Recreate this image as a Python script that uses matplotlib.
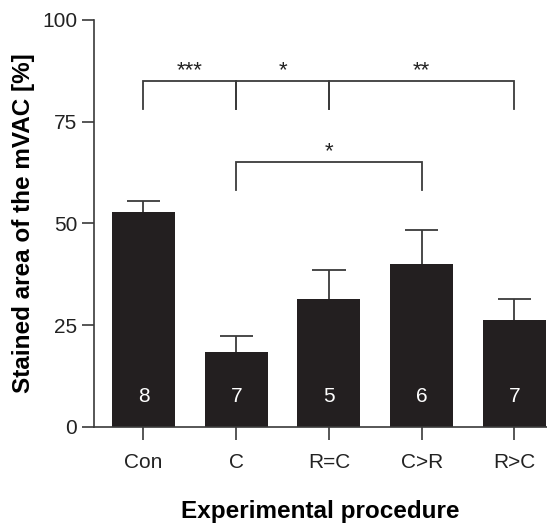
import matplotlib
matplotlib.use('Agg')
import matplotlib.pyplot as plt
import numpy as np

plt.rcParams['font.family'] = ['Liberation Sans', 'DejaVu Sans']

# data
groups = ['Con', 'C', 'R=C', 'C>R', 'R>C']
means = [52.8, 18.3, 31.4, 40.0, 26.3]
sem = [2.7, 4.1, 7.2, 8.5, 5.1]
n_per_group = [8, 7, 5, 6, 7]

# significance brackets: (left group, right group, bracket height, label)
brackets = [(0, 1, 85.1, '***'),
            (1, 2, 85.1, '*'),
            (2, 4, 85.1, '**'),
            (1, 3, 65.2, '*')]
drop = 7.0

bar_color = '#231f20'
line_color = '#3a3a3a'

fig = plt.figure(figsize=(5.47, 5.23), dpi=100)
ax = fig.add_axes([0.1718, 0.1836, 0.828, 0.7782])

x = np.arange(len(groups))
ax.bar(x, means, width=0.68, color=bar_color, zorder=2)

# upper error bars only (no cap at the bar top)
tops = np.array(means) + np.array(sem)
ax.vlines(x, means, tops, color=line_color, lw=1.3, zorder=1)
ax.hlines(tops, x - 0.18, x + 0.18, color=line_color, lw=1.3, zorder=1)

for xi, n in zip(x, n_per_group):
    ax.text(xi, 7.6, str(n), color='white', ha='center', va='center', fontsize=15)

for a, b, h, lab in brackets:
    ax.plot([a, a, b, b], [h - drop, h, h, h - drop], color=line_color, lw=1.3,
            solid_joinstyle='miter', clip_on=False)
    ax.text((a + b) / 2, h - 0.2, lab, ha='center', va='bottom', fontsize=16, color='#222222')

ax.set_xlim(-0.534, 4.35)
ax.set_ylim(0, 100)
ax.set_yticks([0, 25, 50, 75, 100])
ax.set_xticks(x)
ax.set_xticklabels(groups)

for s in ['top', 'right']:
    ax.spines[s].set_visible(False)
for s in ['left', 'bottom']:
    ax.spines[s].set_color(line_color)
    ax.spines[s].set_linewidth(1.2)

ax.tick_params(axis='both', length=9, width=1.2, color=line_color,
               labelsize=15, labelcolor='#222222')
ax.tick_params(axis='y', pad=3)
ax.tick_params(axis='x', pad=10)

ax.set_ylabel('Stained area of the mVAC [%]', fontsize=17.5, fontweight='bold', labelpad=5)
ax.set_xlabel('Experimental procedure', fontsize=17.5, fontweight='bold', labelpad=20)

fig.savefig('out.png', dpi=100)
